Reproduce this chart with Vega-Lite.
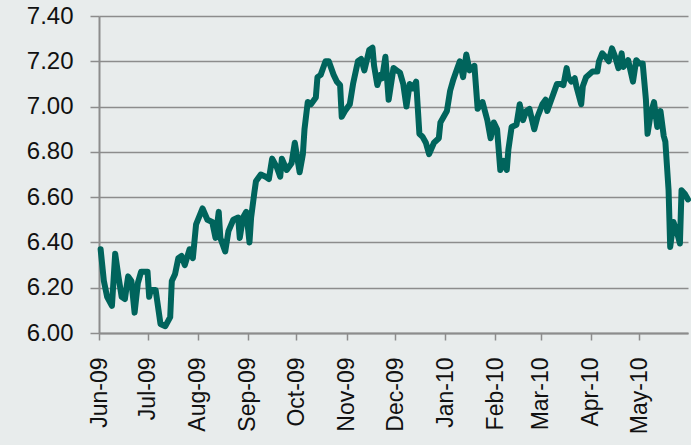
{
  "$schema": "https://vega.github.io/schema/vega-lite/v6.json",
  "width": 589,
  "height": 317,
  "autosize": {"type": "none"},
  "padding": {"left": 99, "top": 16, "right": 3, "bottom": 112},
  "background": "#e8ecec",
  "config": {
    "view": {"stroke": null},
    "font": "Liberation Sans"
  },
  "data": {
    "values": [
      {"date": "2009-06-02", "rate": 6.37},
      {"date": "2009-06-04", "rate": 6.23},
      {"date": "2009-06-06", "rate": 6.16},
      {"date": "2009-06-09", "rate": 6.12},
      {"date": "2009-06-11", "rate": 6.35},
      {"date": "2009-06-13", "rate": 6.25},
      {"date": "2009-06-15", "rate": 6.16},
      {"date": "2009-06-17", "rate": 6.15},
      {"date": "2009-06-19", "rate": 6.25},
      {"date": "2009-06-21", "rate": 6.23},
      {"date": "2009-06-23", "rate": 6.09},
      {"date": "2009-06-25", "rate": 6.22},
      {"date": "2009-06-27", "rate": 6.27},
      {"date": "2009-07-01", "rate": 6.27},
      {"date": "2009-07-02", "rate": 6.16},
      {"date": "2009-07-03", "rate": 6.19},
      {"date": "2009-07-06", "rate": 6.19},
      {"date": "2009-07-09", "rate": 6.04},
      {"date": "2009-07-12", "rate": 6.03},
      {"date": "2009-07-15", "rate": 6.07},
      {"date": "2009-07-16", "rate": 6.23},
      {"date": "2009-07-18", "rate": 6.26},
      {"date": "2009-07-20", "rate": 6.33},
      {"date": "2009-07-22", "rate": 6.34},
      {"date": "2009-07-24", "rate": 6.30},
      {"date": "2009-07-27", "rate": 6.37},
      {"date": "2009-07-29", "rate": 6.33},
      {"date": "2009-07-31", "rate": 6.48},
      {"date": "2009-08-04", "rate": 6.55},
      {"date": "2009-08-07", "rate": 6.50},
      {"date": "2009-08-10", "rate": 6.49},
      {"date": "2009-08-12", "rate": 6.42},
      {"date": "2009-08-14", "rate": 6.535},
      {"date": "2009-08-15", "rate": 6.42},
      {"date": "2009-08-18", "rate": 6.36},
      {"date": "2009-08-20", "rate": 6.45},
      {"date": "2009-08-23", "rate": 6.50},
      {"date": "2009-08-26", "rate": 6.51},
      {"date": "2009-08-27", "rate": 6.42},
      {"date": "2009-08-29", "rate": 6.51},
      {"date": "2009-08-31", "rate": 6.535},
      {"date": "2009-09-02", "rate": 6.40},
      {"date": "2009-09-03", "rate": 6.51},
      {"date": "2009-09-05", "rate": 6.62},
      {"date": "2009-09-06", "rate": 6.67},
      {"date": "2009-09-09", "rate": 6.70},
      {"date": "2009-09-12", "rate": 6.69},
      {"date": "2009-09-14", "rate": 6.68},
      {"date": "2009-09-16", "rate": 6.77},
      {"date": "2009-09-19", "rate": 6.73},
      {"date": "2009-09-21", "rate": 6.69},
      {"date": "2009-09-22", "rate": 6.77},
      {"date": "2009-09-25", "rate": 6.72},
      {"date": "2009-09-28", "rate": 6.75},
      {"date": "2009-09-30", "rate": 6.84},
      {"date": "2009-10-03", "rate": 6.71},
      {"date": "2009-10-05", "rate": 6.79},
      {"date": "2009-10-06", "rate": 6.90},
      {"date": "2009-10-08", "rate": 7.02},
      {"date": "2009-10-10", "rate": 7.01},
      {"date": "2009-10-13", "rate": 7.04},
      {"date": "2009-10-14", "rate": 7.13},
      {"date": "2009-10-16", "rate": 7.14},
      {"date": "2009-10-19", "rate": 7.20},
      {"date": "2009-10-21", "rate": 7.20},
      {"date": "2009-10-24", "rate": 7.14},
      {"date": "2009-10-26", "rate": 7.11},
      {"date": "2009-10-28", "rate": 7.095},
      {"date": "2009-10-29", "rate": 6.955},
      {"date": "2009-10-31", "rate": 6.98},
      {"date": "2009-11-03", "rate": 7.01},
      {"date": "2009-11-05", "rate": 7.10},
      {"date": "2009-11-08", "rate": 7.20},
      {"date": "2009-11-10", "rate": 7.21},
      {"date": "2009-11-12", "rate": 7.16},
      {"date": "2009-11-15", "rate": 7.25},
      {"date": "2009-11-17", "rate": 7.26},
      {"date": "2009-11-18", "rate": 7.18},
      {"date": "2009-11-20", "rate": 7.095},
      {"date": "2009-11-22", "rate": 7.14},
      {"date": "2009-11-23", "rate": 7.125},
      {"date": "2009-11-25", "rate": 7.22},
      {"date": "2009-11-27", "rate": 7.03},
      {"date": "2009-11-30", "rate": 7.17},
      {"date": "2009-12-02", "rate": 7.16},
      {"date": "2009-12-04", "rate": 7.15},
      {"date": "2009-12-06", "rate": 7.10},
      {"date": "2009-12-08", "rate": 7.00},
      {"date": "2009-12-10", "rate": 7.10},
      {"date": "2009-12-12", "rate": 7.08},
      {"date": "2009-12-14", "rate": 7.11},
      {"date": "2009-12-16", "rate": 6.88},
      {"date": "2009-12-18", "rate": 6.866},
      {"date": "2009-12-20", "rate": 6.84},
      {"date": "2009-12-22", "rate": 6.79},
      {"date": "2009-12-25", "rate": 6.84},
      {"date": "2009-12-28", "rate": 6.86},
      {"date": "2009-12-29", "rate": 6.93},
      {"date": "2009-12-31", "rate": 6.955},
      {"date": "2010-01-02", "rate": 6.98},
      {"date": "2010-01-04", "rate": 7.07},
      {"date": "2010-01-06", "rate": 7.12},
      {"date": "2010-01-08", "rate": 7.16},
      {"date": "2010-01-10", "rate": 7.20},
      {"date": "2010-01-12", "rate": 7.13},
      {"date": "2010-01-14", "rate": 7.23},
      {"date": "2010-01-16", "rate": 7.16},
      {"date": "2010-01-19", "rate": 7.18},
      {"date": "2010-01-21", "rate": 6.99},
      {"date": "2010-01-24", "rate": 7.02},
      {"date": "2010-01-27", "rate": 6.94},
      {"date": "2010-01-29", "rate": 6.86},
      {"date": "2010-01-31", "rate": 6.93},
      {"date": "2010-02-02", "rate": 6.90},
      {"date": "2010-02-04", "rate": 6.72},
      {"date": "2010-02-06", "rate": 6.76},
      {"date": "2010-02-08", "rate": 6.72},
      {"date": "2010-02-09", "rate": 6.81},
      {"date": "2010-02-11", "rate": 6.91},
      {"date": "2010-02-14", "rate": 6.92},
      {"date": "2010-02-16", "rate": 7.01},
      {"date": "2010-02-18", "rate": 6.94},
      {"date": "2010-02-20", "rate": 6.98},
      {"date": "2010-02-22", "rate": 6.99},
      {"date": "2010-02-25", "rate": 6.90},
      {"date": "2010-02-27", "rate": 6.955},
      {"date": "2010-03-02", "rate": 7.01},
      {"date": "2010-03-04", "rate": 7.03},
      {"date": "2010-03-05", "rate": 6.98},
      {"date": "2010-03-08", "rate": 7.04},
      {"date": "2010-03-09", "rate": 7.06},
      {"date": "2010-03-11", "rate": 7.10},
      {"date": "2010-03-13", "rate": 7.10},
      {"date": "2010-03-15", "rate": 7.095},
      {"date": "2010-03-17", "rate": 7.17},
      {"date": "2010-03-18", "rate": 7.13},
      {"date": "2010-03-20", "rate": 7.11},
      {"date": "2010-03-22", "rate": 7.125},
      {"date": "2010-03-23", "rate": 7.09},
      {"date": "2010-03-26", "rate": 7.01},
      {"date": "2010-03-27", "rate": 7.09},
      {"date": "2010-03-29", "rate": 7.13},
      {"date": "2010-04-02", "rate": 7.155},
      {"date": "2010-04-05", "rate": 7.155},
      {"date": "2010-04-06", "rate": 7.20},
      {"date": "2010-04-08", "rate": 7.235},
      {"date": "2010-04-10", "rate": 7.22},
      {"date": "2010-04-12", "rate": 7.20},
      {"date": "2010-04-14", "rate": 7.257},
      {"date": "2010-04-16", "rate": 7.22},
      {"date": "2010-04-18", "rate": 7.17},
      {"date": "2010-04-20", "rate": 7.235},
      {"date": "2010-04-21", "rate": 7.175},
      {"date": "2010-04-24", "rate": 7.205},
      {"date": "2010-04-27", "rate": 7.11},
      {"date": "2010-04-29", "rate": 7.205},
      {"date": "2010-05-01", "rate": 7.19},
      {"date": "2010-05-03", "rate": 7.19},
      {"date": "2010-05-05", "rate": 7.03},
      {"date": "2010-05-06", "rate": 6.88},
      {"date": "2010-05-08", "rate": 6.97},
      {"date": "2010-05-10", "rate": 7.02},
      {"date": "2010-05-12", "rate": 6.91},
      {"date": "2010-05-14", "rate": 6.98},
      {"date": "2010-05-16", "rate": 6.87},
      {"date": "2010-05-17", "rate": 6.845},
      {"date": "2010-05-19", "rate": 6.63},
      {"date": "2010-05-20", "rate": 6.38},
      {"date": "2010-05-22", "rate": 6.49},
      {"date": "2010-05-24", "rate": 6.45},
      {"date": "2010-05-26", "rate": 6.395},
      {"date": "2010-05-27", "rate": 6.63},
      {"date": "2010-05-29", "rate": 6.615},
      {"date": "2010-05-31", "rate": 6.59}
    ]
  },
  "mark": {"type": "line", "color": "#00645c", "strokeWidth": 6, "strokeJoin": "round", "strokeCap": "round"},
  "encoding": {
    "x": {
      "field": "date",
      "type": "temporal",
      "scale": {
        "type": "utc",
        "domain": [
          {"year": 2009, "month": 6, "date": 1, "utc": true},
          {"year": 2010, "month": 5, "date": 31, "utc": true}
        ]
      },
      "axis": {
        "title": null,
        "labelExpr": "utcFormat(datum.value, '%b-%y')",
        "values": [
          {"year": 2009, "month": 6, "date": 1, "utc": true},
          {"year": 2009, "month": 7, "date": 1, "utc": true},
          {"year": 2009, "month": 8, "date": 1, "utc": true},
          {"year": 2009, "month": 9, "date": 1, "utc": true},
          {"year": 2009, "month": 10, "date": 1, "utc": true},
          {"year": 2009, "month": 11, "date": 1, "utc": true},
          {"year": 2009, "month": 12, "date": 1, "utc": true},
          {"year": 2010, "month": 1, "date": 1, "utc": true},
          {"year": 2010, "month": 2, "date": 1, "utc": true},
          {"year": 2010, "month": 3, "date": 1, "utc": true},
          {"year": 2010, "month": 4, "date": 1, "utc": true},
          {"year": 2010, "month": 5, "date": 1, "utc": true}
        ],
        "grid": false,
        "labelAngle": -90,
        "labelFontSize": 23,
        "labelColor": "#111111",
        "labelPadding": 17,
        "labelFlush": false,
        "labelOverlap": false,
        "tickSize": 7,
        "tickColor": "#8c8c8c",
        "tickWidth": 1.5,
        "domainColor": "#8c8c8c",
        "domainWidth": 2
      }
    },
    "y": {
      "field": "rate",
      "type": "quantitative",
      "scale": {"domain": [6.0, 7.4], "nice": false, "zero": false},
      "axis": {
        "title": null,
        "values": [6.0, 6.2, 6.4, 6.6, 6.8, 7.0, 7.2, 7.4],
        "format": ".2f",
        "labelFontSize": 24,
        "labelColor": "#111111",
        "labelPadding": 17,
        "labelFlush": false,
        "grid": true,
        "gridColor": "#8c8c8c",
        "gridWidth": 1.5,
        "tickSize": 9,
        "tickColor": "#8c8c8c",
        "tickWidth": 1.5,
        "domainColor": "#8c8c8c",
        "domainWidth": 2
      }
    }
  }
}
